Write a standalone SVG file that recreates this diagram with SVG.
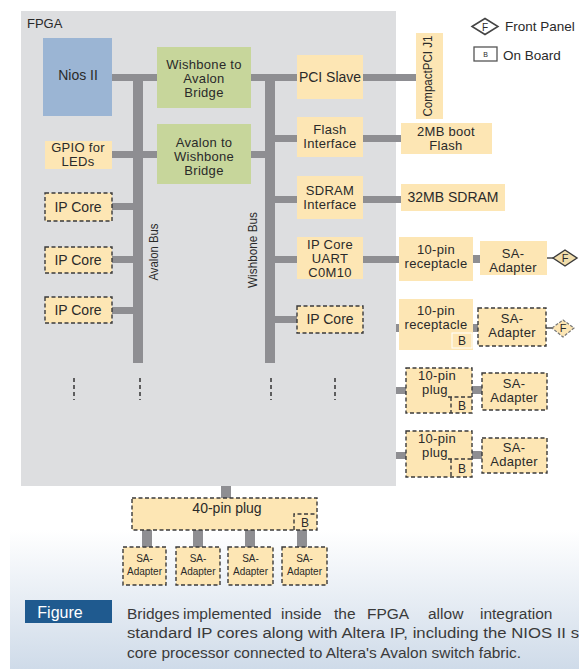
<svg xmlns="http://www.w3.org/2000/svg" width="579" height="669" viewBox="0 0 579 669">
<defs>
<linearGradient id="bg" gradientUnits="userSpaceOnUse" x1="0" y1="530" x2="0" y2="669">
<stop offset="0" stop-color="#ffffff"/>
<stop offset="1" stop-color="#cfdbe9"/>
</linearGradient>
</defs>
<style>
text{font-family:"Liberation Sans",Arial,sans-serif;fill:#2a2a2a}
.t{font-size:14px;text-anchor:middle}
.m{font-size:13px;letter-spacing:0.3px;text-anchor:middle}
.s{font-size:10px;text-anchor:middle}
.bar{fill:#8e8e92}
.y{fill:#fde6b4}
.g{fill:#c7d69b}
.d{fill:#fde6b4;stroke:#3a3a3a;stroke-width:1.4;stroke-dasharray:4 2.5}
.dl{fill:none;stroke:#3a3a3a;stroke-width:1.4;stroke-dasharray:4 2.5}
.dots{stroke:#333;stroke-width:1.5;stroke-dasharray:4 3}
.cap{font-size:15.5px;fill:#3a3a3a}
</style>
<rect width="579" height="669" fill="#ffffff"/>
<rect x="10" y="0" width="569" height="669" fill="url(#bg)"/>

<g id="fpga">
<rect x="21" y="11" width="375" height="475" fill="#dddee0"/>
<text x="27" y="28" style="font-size:13px">FPGA</text>
</g>

<g id="connectors">
<rect class="bar" x="133" y="74" width="10" height="289"/>
<rect class="bar" x="265" y="74" width="10" height="289"/>
<rect class="bar" x="112" y="74" width="45" height="7"/>
<rect class="bar" x="251" y="74" width="46" height="7"/>
<rect class="bar" x="112" y="151" width="45" height="7"/>
<rect class="bar" x="251" y="151" width="14" height="7"/>
<rect class="bar" x="112" y="203" width="21" height="7"/>
<rect class="bar" x="112" y="256" width="21" height="7"/>
<rect class="bar" x="112" y="307" width="21" height="7"/>
<rect class="bar" x="275" y="135" width="22" height="7"/>
<rect class="bar" x="275" y="196" width="22" height="7"/>
<rect class="bar" x="275" y="256" width="22" height="7"/>
<rect class="bar" x="275" y="316" width="22" height="7"/>
<rect class="bar" x="363" y="74" width="53" height="7"/>
<rect class="bar" x="363" y="135" width="38" height="7"/>
<rect class="bar" x="363" y="196" width="38" height="7"/>
<rect class="bar" x="363" y="256" width="36" height="7"/>
<rect class="bar" x="473" y="255" width="7" height="8"/>
<line x1="547" y1="258" x2="553" y2="258" stroke="#333" stroke-width="1.3"/>
<rect class="bar" x="396" y="324" width="3" height="8"/>
<rect class="bar" x="473" y="324" width="5" height="8"/>
<line x1="546" y1="328" x2="552" y2="328" stroke="#333" stroke-width="1.3"/>
<rect class="bar" x="396" y="387" width="10" height="7"/>
<rect class="bar" x="472" y="386" width="10" height="8"/>
<rect class="bar" x="396" y="452" width="10" height="7"/>
<rect class="bar" x="472" y="451" width="10" height="8"/>
<rect class="bar" x="221" y="486" width="10" height="12"/>
<rect class="bar" x="142" y="530" width="10" height="17"/>
<rect class="bar" x="193" y="530" width="10" height="17"/>
<rect class="bar" x="245" y="530" width="10" height="17"/>
<rect class="bar" x="297" y="530" width="10" height="17"/>
<line class="dots" x1="74" y1="378" x2="74" y2="400"/>
<line class="dots" x1="140" y1="378" x2="140" y2="400"/>
<line class="dots" x1="271" y1="378" x2="271" y2="400"/>
<line class="dots" x1="335" y1="378" x2="335" y2="400"/>
<text transform="translate(158,252) rotate(-90)" style="font-size:13px;text-anchor:middle" textLength="57" lengthAdjust="spacingAndGlyphs">Avalon Bus</text>
<text transform="translate(257,250) rotate(-90)" style="font-size:13px;text-anchor:middle" textLength="76" lengthAdjust="spacingAndGlyphs">Wishbone Bus</text>
</g>

<g id="nios">
<rect x="43" y="38" width="69" height="78" fill="#9bb5d4"/>
<text class="t" x="78" y="80">Nios II</text>
</g>
<g id="wb2av">
<rect class="g" x="157" y="47" width="94" height="61"/>
<text class="m" x="204" y="69">Wishbone to</text>
<text class="m" x="204" y="83">Avalon</text>
<text class="m" x="204" y="97">Bridge</text>
</g>
<g id="av2wb">
<rect class="g" x="157" y="124" width="94" height="60"/>
<text class="m" x="204" y="147">Avalon to</text>
<text class="m" x="204" y="161">Wishbone</text>
<text class="m" x="204" y="175">Bridge</text>
</g>
<g id="gpio">
<rect class="y" x="45" y="141" width="67" height="28"/>
<text class="m" x="78" y="152">GPIO for</text>
<text class="m" x="78" y="166">LEDs</text>
</g>
<g id="ipcore1">
<rect class="d" x="45" y="193" width="67" height="28"/>
<text class="t" x="78" y="212">IP Core</text>
</g>
<g id="ipcore2">
<rect class="d" x="45" y="247" width="67" height="26"/>
<text class="t" x="78" y="265">IP Core</text>
</g>
<g id="ipcore3">
<rect class="d" x="45" y="297" width="67" height="26"/>
<text class="t" x="78" y="315">IP Core</text>
</g>
<g id="pci">
<rect class="y" x="297" y="55" width="66" height="44"/>
<text class="t" x="330" y="82">PCI Slave</text>
</g>
<g id="flashif">
<rect class="y" x="297" y="117" width="66" height="40"/>
<text class="m" x="330" y="134">Flash</text>
<text class="m" x="330" y="148">Interface</text>
</g>
<g id="sdramif">
<rect class="y" x="297" y="176" width="66" height="43"/>
<text class="m" x="330" y="195">SDRAM</text>
<text class="m" x="330" y="209">Interface</text>
</g>
<g id="uart">
<rect class="y" x="297" y="237" width="66" height="42"/>
<text class="m" x="330" y="249">IP Core</text>
<text class="m" x="330" y="263">UART</text>
<text class="m" x="330" y="277">C0M10</text>
</g>
<g id="ipcore4">
<rect class="d" x="297" y="306" width="66" height="27"/>
<text class="t" x="330" y="324">IP Core</text>
</g>
<g id="compactpci">
<rect class="y" x="416" y="33" width="27" height="86"/>
<text transform="translate(432,76) rotate(-90)" style="font-size:13px;text-anchor:middle" textLength="81" lengthAdjust="spacingAndGlyphs">CompactPCI J1</text>
</g>
<g id="bootflash">
<rect class="y" x="401" y="123" width="91" height="31"/>
<text class="m" x="446" y="136">2MB boot</text>
<text class="m" x="446" y="150">Flash</text>
</g>
<g id="sdram32">
<rect class="y" x="401" y="184" width="104" height="27"/>
<text class="t" x="453" y="202">32MB SDRAM</text>
</g>
<g id="rec1">
<rect class="y" x="399" y="237" width="74" height="44"/>
<text class="m" x="436" y="254">10-pin</text>
<text class="m" x="436" y="268">receptacle</text>
</g>
<g id="sa1">
<rect class="y" x="480" y="241" width="67" height="34"/>
<text class="m" x="513" y="258">SA-</text>
<text class="m" x="513" y="272">Adapter</text>
</g>
<g id="fp1">
<polygon points="553,258 565,250 577,258 565,266" fill="#f1ddab" stroke="#3a3a3a" stroke-width="1.4"/>
<text x="565" y="262" style="font-size:11px;text-anchor:middle">F</text>
</g>
<g id="rec2">
<rect class="y" x="399" y="299" width="74" height="51"/>
<rect class="y" x="452" y="333" width="20" height="15" stroke="#ffffff" stroke-width="1"/>
<text class="m" x="436" y="315">10-pin</text>
<text class="m" x="436" y="329">receptacle</text>
<text x="462" y="345" style="font-size:12px;text-anchor:middle">B</text>
</g>
<g id="sa2">
<rect class="d" x="478" y="308" width="68" height="38"/>
<text class="m" x="512" y="323">SA-</text>
<text class="m" x="512" y="337">Adapter</text>
</g>
<g id="fp2">
<polygon points="552,328 563,320 574,328 563,337" fill="#fde6b4" stroke="#777" stroke-width="1.2" stroke-dasharray="3 1.5"/>
<text x="563" y="332" style="font-size:11px;text-anchor:middle">F</text>
</g>
<g id="plug1">
<rect class="d" x="406" y="368" width="66" height="45"/>
<path class="dl" d="M448 397 H472 M451 397 V413"/>
<text class="m" x="437" y="380">10-pin</text>
<text class="m" x="435" y="394">plug</text>
<text x="462" y="410" style="font-size:12px;text-anchor:middle">B</text>
</g>
<g id="sa3">
<rect class="d" x="482" y="373" width="65" height="37"/>
<text class="m" x="514" y="388">SA-</text>
<text class="m" x="514" y="402">Adapter</text>
</g>
<g id="plug2">
<rect class="d" x="406" y="431" width="66" height="46"/>
<path class="dl" d="M448 459 H472 M451 459 V477"/>
<text class="m" x="437" y="443">10-pin</text>
<text class="m" x="435" y="457">plug</text>
<text x="462" y="473" style="font-size:12px;text-anchor:middle">B</text>
</g>
<g id="sa4">
<rect class="d" x="482" y="438" width="65" height="35"/>
<text class="m" x="514" y="452">SA-</text>
<text class="m" x="514" y="466">Adapter</text>
</g>
<g id="plug40">
<rect class="d" x="132" y="498" width="185" height="32"/>
<path class="dl" d="M294 530 V514 H317"/>
<text class="t" x="227" y="513">40-pin plug</text>
<text x="305" y="527" style="font-size:12px;text-anchor:middle">B</text>
</g>
<g id="sa5">
<rect class="d" x="123" y="547" width="43" height="38"/>
<text class="s" x="144.5" y="562">SA-</text>
<text class="s" x="144.5" y="575">Adapter</text>
</g>
<g id="sa6">
<rect class="d" x="176" y="547" width="44" height="38"/>
<text class="s" x="198" y="562">SA-</text>
<text class="s" x="198" y="575">Adapter</text>
</g>
<g id="sa7">
<rect class="d" x="228" y="547" width="45" height="38"/>
<text class="s" x="250.5" y="562">SA-</text>
<text class="s" x="250.5" y="575">Adapter</text>
</g>
<g id="sa8">
<rect class="d" x="282" y="547" width="45" height="38"/>
<text class="s" x="304.5" y="562">SA-</text>
<text class="s" x="304.5" y="575">Adapter</text>
</g>

<g id="legend">
<polygon points="472,26.5 485,18.5 498,26.5 485,34.5" fill="#ffffff" stroke="#444" stroke-width="1.5"/>
<text x="485" y="30.5" style="font-size:10px;text-anchor:middle">F</text>
<text x="505" y="31" style="font-size:13.5px">Front Panel</text>
<rect x="474" y="47" width="23" height="14" fill="#ffffff" stroke="#555" stroke-width="1.3"/>
<text x="485.5" y="57" style="font-size:7px;text-anchor:middle">B</text>
<text x="503" y="60" style="font-size:13.5px">On Board</text>
</g>

<g id="caption">
<rect x="25" y="600" width="87" height="23" fill="#1f5a8f"/>
<text x="60" y="618" style="font-size:16px;fill:#ffffff;text-anchor:middle">Figure</text>
<text class="cap" y="619"><tspan x="127">Bridges</tspan><tspan x="183">implemented</tspan><tspan x="281">inside</tspan><tspan x="334">the</tspan><tspan x="367">FPGA</tspan><tspan x="428">allow</tspan><tspan x="480">integration</tspan></text>
<text class="cap" x="127" y="638" textLength="452" lengthAdjust="spacingAndGlyphs">standard IP cores along with Altera IP, including the NIOS II s</text>
<text class="cap" x="127" y="658" textLength="394" lengthAdjust="spacingAndGlyphs">core processor connected to Altera's Avalon switch fabric.</text>
</g>
</svg>
